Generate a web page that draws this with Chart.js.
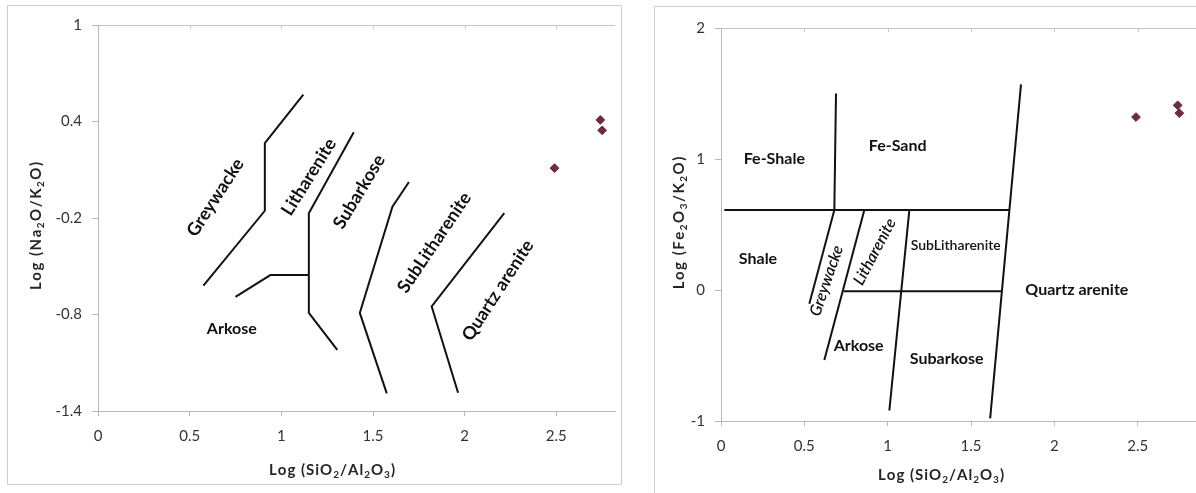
<!DOCTYPE html>
<html>
<head>
<meta charset="utf-8">
<script src="https://cdn.jsdelivr.net/npm/chart.js@4/dist/chart.umd.min.js"></script>
<style>
  html, body { margin: 0; padding: 0; background: #fff; overflow: hidden; width: 1196px; height: 493px; }
  .panel { position: absolute; border: 1px solid #cfcfcf; box-sizing: border-box; background: #fff; overflow: hidden; }
  #panelLeft { left: 7px; top: 5px; width: 615px; height: 480px; }
  #panelRight { left: 654px; top: 6px; width: 620px; height: 500px; }
  canvas { position: absolute; left: 0; top: 0; }
</style>
</head>
<body>
<div class="panel" id="panelLeft"><canvas id="pettijohnChart" width="613" height="478"></canvas></div>
<div class="panel" id="panelRight"><canvas id="herronChart" width="618" height="498"></canvas></div>

<script>
// --- DANE ---
const siAlTicks = [0, 0.5, 1, 1.5, 2, 2.5];
const naKTicks = [-1.4, -0.8, -0.2, 0.4, 1];
const feKTicks = [-1, 0, 1, 2];

// samples (log SiO2/Al2O3 vs log Na2O/K2O and log Fe2O3/K2O)
const sampleSiAl = [2.49, 2.74, 2.75];
const sampleNaK = [0.11, 0.41, 0.345];
const sampleFeK = [1.32, 1.41, 1.35];

// Pettijohn field boundaries, [x, y]
const pettiGreywacke = [[0.575, -0.62], [0.91, -0.155], [0.91, 0.265], [1.12, 0.567]];
const pettiArkoseCut = [[0.75, -0.69], [0.94, -0.555], [1.15, -0.555]];
const pettiLitharenite = [[1.395, 0.333], [1.15, -0.17], [1.15, -0.79], [1.305, -1.02]];
const pettiSubarkose = [[1.696, 0.024], [1.606, -0.13], [1.428, -0.79], [1.575, -1.29]];
const pettiQuartz = [[2.216, -0.169], [1.82, -0.75], [1.964, -1.287]];
const pettiFields = ['Greywacke', 'Litharenite', 'Subarkose', 'SubLitharenite', 'Quartz arenite', 'Arkose'];

// Herron field boundaries, [x, y]
const herronFeLine = [[0.02, 0.61], [1.73, 0.61]];
const herronFeSplit = [[0.69, 1.50], [0.68, 0.61]];
const herronQuartz = [[1.80, 1.57], [1.615, -0.98]];
const herronGreywacke = [[0.68, 0.61], [0.53, -0.105]];
const herronLitharenite = [[0.86, 0.61], [0.62, -0.535]];
const herronSubLith = [[1.13, 0.61], [1.01, -0.92]];
const herronArkoseLine = [[0.735, -0.01], [1.685, -0.01]];
const herronFields = ['Fe-Shale', 'Fe-Sand', 'Shale', 'Greywacke', 'Litharenite', 'SubLitharenite', 'Quartz arenite', 'Arkose', 'Subarkose'];

// --- UKŁAD ETYKIET (pozycje w jednostkach osi) ---
const pettiLabelAt = [
  { at: [0.64, -0.073], angle: 57, font: 'bold 18px Lato' },
  { at: [1.15, 0.055], angle: 58, font: 'bold 18px Lato' },
  { at: [1.425, -0.037], angle: 59, font: 'bold 18px Lato' },
  { at: [1.835, -0.353], angle: 56, font: 'bold 18px Lato' },
  { at: [2.181, -0.65], angle: 57, font: 'bold 18px Lato' },
  { at: [0.73, -0.89], angle: 0, font: 'bold 16px Lato' }
];
const herronLabelAt = [
  { at: [0.32, 1.005], angle: 0, font: 'bold 16px Lato' },
  { at: [1.06, 1.10], angle: 0, font: 'bold 16px Lato' },
  { at: [0.222, 0.237], angle: 0, font: 'bold 16px Lato' },
  { at: [0.633, 0.071], angle: 71, font: 'italic 600 16px Lato' },
  { at: [0.922, 0.292], angle: 62, font: 'italic 600 16px Lato' },
  { at: [1.408, 0.34], angle: 0, font: '600 14px Lato' },
  { at: [2.135, 0.0], angle: 0, font: 'bold 16px Lato' },
  { at: [0.826, -0.43], angle: 0, font: 'bold 16px Lato' },
  { at: [1.354, -0.528], angle: 0, font: 'bold 16px Lato' }
];

Chart.defaults.font.family = 'Lato';

const toXY = (pts) => pts.map(([x, y]) => ({ x, y }));
const samplesXY = (ys) => sampleSiAl.map((x, i) => ({ x, y: ys[i] }));

const boundary = (pts) => ({
  data: toXY(pts),
  showLine: true,
  borderColor: '#111',
  borderWidth: 2,
  pointRadius: 0,
  fill: false,
  tension: 0,
  order: 2
});

const samples = (ys) => ({
  data: samplesXY(ys),
  pointStyle: 'rectRot',
  pointRadius: 4.4,
  backgroundColor: '#6f2a40',
  borderColor: '#6f2a40',
  borderWidth: 1,
  showLine: false,
  order: 1
});

// tekst z indeksami dolnymi: 'SiO_2' -> SiO₂
const drawRichText = (ctx, text, cx, cy, angle, size, spacing) => {
  const parts = [];
  for (let i = 0; i < text.length; i++) {
    if (text[i] === '_') { parts.push({ ch: text[i + 1], sub: true }); i++; }
    else parts.push({ ch: text[i], sub: false });
  }
  const big = `bold ${size}px Lato`;
  const small = `bold ${Math.round(size * 0.66)}px Lato`;
  let total = 0;
  parts.forEach(p => {
    ctx.font = p.sub ? small : big;
    p.w = ctx.measureText(p.ch).width;
    total += p.w + spacing;
  });
  total -= spacing;
  ctx.save();
  ctx.translate(cx, cy);
  ctx.rotate(angle);
  ctx.textAlign = 'left';
  ctx.textBaseline = 'middle';
  ctx.fillStyle = '#262626';
  let x = -total / 2;
  parts.forEach(p => {
    ctx.font = p.sub ? small : big;
    ctx.fillText(p.ch, x, p.sub ? size * 0.3 : 0);
    x += p.w + spacing;
  });
  ctx.restore();
};

// --- PLUGIN: nazwy pól, tytuły osi, kreski na górnej linii ---
const diagramText = {
  id: 'diagramText',
  afterDatasetsDraw(chart, args, opts) {
    const { ctx, chartArea, scales: { x, y } } = chart;
    ctx.save();

    // drobne kreski podziałki pod górną krawędzią (jak w Excelu)
    ctx.strokeStyle = '#c8c8c8';
    ctx.lineWidth = 1;
    x.ticks.forEach(t => {
      if (t.value === 0) return;
      const px = Math.round(x.getPixelForValue(t.value)) + 0.5;
      ctx.beginPath();
      ctx.moveTo(px, chartArea.top);
      ctx.lineTo(px, chartArea.top + 4);
      ctx.stroke();
    });

    opts.names.forEach((name, i) => {
      const lab = opts.placement[i];
      ctx.save();
      ctx.translate(x.getPixelForValue(lab.at[0]), y.getPixelForValue(lab.at[1]));
      ctx.rotate(-lab.angle * Math.PI / 180);
      ctx.font = lab.font;
      ctx.fillStyle = '#111';
      ctx.textAlign = 'center';
      ctx.textBaseline = 'middle';
      ctx.fillText(name, 0, 0);
      ctx.restore();
    });

    const t = opts.titles;
    drawRichText(ctx, t.x.text, chartArea.left + t.x.dx, chartArea.bottom + t.x.dy, 0, 15, 1);
    drawRichText(ctx, t.y.text, t.y.cx, chartArea.top + t.y.dy, -Math.PI / 2, 15, 1.5);
    ctx.restore();
  }
};

const axisGray = '#b8b8b8';

const makeOptions = (cfg) => ({
  responsive: false,
  animation: false,
  devicePixelRatio: 1,
  layout: { padding: cfg.padding },
  plugins: {
    legend: { display: false },
    tooltip: { enabled: false },
    diagramText: { names: cfg.names, placement: cfg.placement, titles: cfg.titles }
  },
  scales: {
    x: {
      type: 'linear',
      min: 0,
      max: cfg.xMax,
      afterBuildTicks: (s) => { s.ticks = siAlTicks.map(v => ({ value: v })); },
      afterFit: (s) => { s.height = cfg.xHeight; },
      border: { color: axisGray, width: 1 },
      grid: { drawOnChartArea: false, drawTicks: true, tickLength: 5, tickColor: axisGray },
      ticks: { color: '#333', font: { size: 15 }, padding: 11, maxRotation: 0, callback: (v) => String(v) }
    },
    y: {
      type: 'linear',
      min: cfg.yTicks[0],
      max: cfg.yTicks[cfg.yTicks.length - 1],
      afterBuildTicks: (s) => { s.ticks = cfg.yTicks.map(v => ({ value: v })); },
      afterFit: (s) => { s.width = cfg.yWidth; },
      border: { color: axisGray, width: 1 },
      grid: {
        drawTicks: true,
        tickLength: 6,
        tickColor: axisGray,
        color: (ctx) => (ctx.tick && ctx.tick.value === cfg.yTicks[cfg.yTicks.length - 1]) ? '#c4c4c4' : 'rgba(0,0,0,0)'
      },
      ticks: { color: '#333', font: { size: 15 }, padding: 10, callback: (v) => String(v) }
    }
  }
});

// --- WYKRES 1: Log(Na2O/K2O) ---
new Chart(document.getElementById('pettijohnChart').getContext('2d'), {
  type: 'scatter',
  data: {
    datasets: [
      samples(sampleNaK),
      boundary(pettiGreywacke),
      boundary(pettiArkoseCut),
      boundary(pettiLitharenite),
      boundary(pettiSubarkose),
      boundary(pettiQuartz)
    ]
  },
  options: makeOptions({
    padding: { left: 0, top: 19, right: 6, bottom: 0 },
    xMax: 2.82,
    xHeight: 73,
    yWidth: 90,
    yTicks: naKTicks,
    names: pettiFields,
    placement: pettiLabelAt,
    titles: {
      x: { text: 'Log (SiO_2/Al_2O_3)', dx: 234, dy: 59 },
      y: { text: 'Log (Na_2O/K_2O)', cx: 28, dy: 201 }
    }
  }),
  plugins: [diagramText]
});

// --- WYKRES 2: Log(Fe2O3/K2O) ---
new Chart(document.getElementById('herronChart').getContext('2d'), {
  type: 'scatter',
  data: {
    datasets: [
      samples(sampleFeK),
      boundary(herronFeLine),
      boundary(herronFeSplit),
      boundary(herronQuartz),
      boundary(herronGreywacke),
      boundary(herronLitharenite),
      boundary(herronSubLith),
      boundary(herronArkoseLine)
    ]
  },
  options: makeOptions({
    padding: { left: 0, top: 21, right: 52, bottom: 0 },
    xMax: 3,
    xHeight: 84,
    yWidth: 66,
    yTicks: feKTicks,
    names: herronFields,
    placement: herronLabelAt,
    titles: {
      x: { text: 'Log (SiO_2/Al_2O_3)', dx: 220, dy: 54 },
      y: { text: 'Log (Fe_2O_3/K_2O)', cx: 24, dy: 195 }
    }
  }),
  plugins: [diagramText]
});
</script>
</body>
</html>
